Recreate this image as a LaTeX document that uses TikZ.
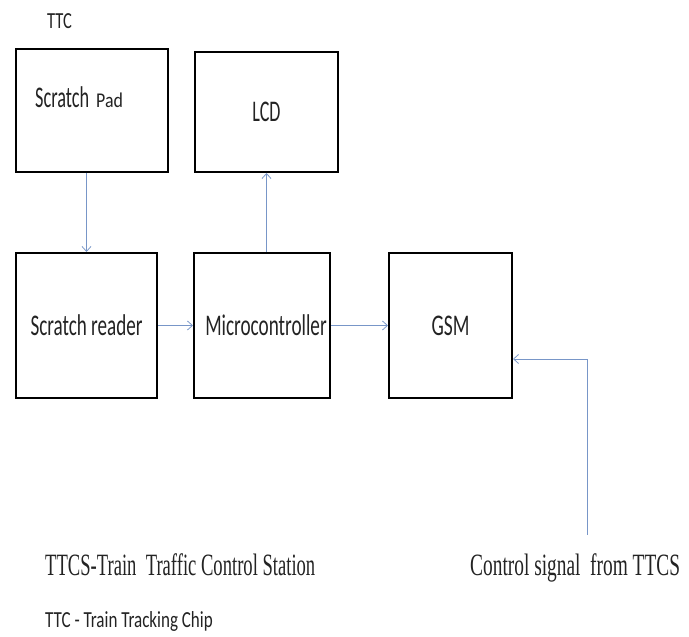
\documentclass[tikz,border=0pt]{standalone}
\usepackage{fontspec}
\usepackage{graphicx}
\setmainfont{Liberation Serif}
\newfontfamily\calib{Carlito}
\usetikzlibrary{arrows.meta}
\definecolor{arrblue}{RGB}{120,150,200}
\definecolor{txt}{RGB}{35,35,35}
\tikzset{
  blockbox/.style={draw=black, line width=2pt, rectangle, inner sep=0pt, text=txt,
    font=\calib\fontsize{30}{34}\selectfont},
  conn/.style={draw=arrblue, line width=0.75pt, -{Straight Barb[length=5pt,width=9pt]}},
  sertext/.style={inner sep=0pt, anchor=base west, text=txt, font=\fontsize{31}{34}\selectfont},
  sanstext/.style={inner sep=0pt, anchor=base west, text=txt, font=\calib\fontsize{23}{26}\selectfont}
}
\newcommand\sqz[2]{\scalebox{#1}[1]{#2}}
\begin{document}
\begin{tikzpicture}[x=1pt,y=1pt]
\useasboundingbox[fill=white] (0,0) rectangle (689,637);
% boxes (y = 637 - pixel y)
\node[blockbox, minimum width=152pt, minimum height=123pt] (pad) at (92,526.5) {};
\node[blockbox, minimum width=143pt, minimum height=120pt] (lcd) at (266.5,525) {\sqz{0.6}{LCD}};
\node[blockbox, minimum width=141pt, minimum height=145pt] (reader) at (86.5,311.5) {\sqz{0.637}{Scratch reader}};
\node[blockbox, minimum width=136pt, minimum height=145pt] (micro) at (262,311.5) {\hspace*{8pt}\sqz{0.64}{Microcontroller}};
\node[blockbox, minimum width=123pt, minimum height=145pt] (gsm) at (450.5,311.5) {\sqz{0.65}{GSM}};
% label inside Scratch Pad
\node[inner sep=0pt, anchor=base west, text=txt] (padtext) at (35,529)
  {\calib\fontsize{30}{34}\selectfont\sqz{0.61}{Scratch}\hspace{7pt}\fontsize{21}{24}\selectfont\sqz{0.85}{Pad}};
% free texts
\node[sanstext] (ttc) at (47,608) {\sqz{0.72}{TTC}};
\node[sertext] (ttcs) at (45,61) {\sqz{0.60}{TTCS-Train\ \ Traffic Control Station}};
\node[sertext] (ctltext) at (470,61) {\sqz{0.625}{Control signal\ \ from TTCS}};
\node[sanstext] (ttcdef) at (45,9) {\sqz{0.74}{TTC - Train Tracking Chip}};
% connectors
\draw[conn] (reader.north |- pad.south) -- (reader.north);
\draw[conn] (lcd.south |- micro.north) -- (lcd.south);
\draw[conn] (reader.east) -- (micro.west);
\draw[conn] (micro.east) -- (gsm.west);
\coordinate (ctl) at (587,102);
\coordinate (ctlturn) at (587,278);
\draw[conn] (ctl) -- (ctlturn) -- (gsm.east |- ctlturn);
\end{tikzpicture}
\end{document}
